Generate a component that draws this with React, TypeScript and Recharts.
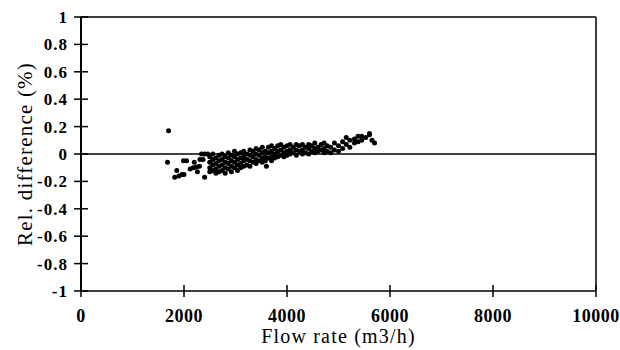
import { ScatterChart, Scatter, XAxis, YAxis, ReferenceLine } from "recharts";

// flow rate (m3/h) and relative difference (%)
const flowRate = [
  1700, 1680, 1860, 1820, 1900, 1960, 2000, 1990, 2050, 2120, 2180, 2240, 2300, 2200, 2260, 2310, 2370, 2340, 2400, 2460, 2400,
  2500, 2500, 2500, 2500, 2560, 2560, 2560, 2560, 2620, 2620, 2620, 2620, 2680, 2680, 2680, 2680,
  2740, 2740, 2740, 2740, 2800, 2800, 2800, 2800, 2860, 2860, 2860, 2860, 2920, 2920, 2920, 2920,
  2980, 2980, 2980, 2980, 3040, 3040, 3040, 3040, 3100, 3100, 3100, 3100, 3160, 3160, 3160, 3160,
  3220, 3220, 3220, 3280, 3280, 3280, 3280, 3340, 3340, 3340, 3400, 3400, 3400, 3400, 3460, 3460, 3460,
  3520, 3520, 3520, 3520, 3580, 3580, 3580, 3600, 3640, 3640, 3640, 3700, 3700, 3700, 3700, 3760, 3760, 3760,
  3820, 3820, 3820, 3880, 3880, 3880, 3940, 3940, 3940, 4000, 4000, 4000, 4060, 4060, 4060, 4120, 4120,
  4180, 4180, 4180, 4240, 4240, 4300, 4300, 4300, 4360, 4360, 4420, 4420, 4420, 4480, 4480,
  4540, 4540, 4540, 4600, 4600, 4660, 4660, 4720, 4720, 4720, 4780, 4780, 4850, 4850, 4920, 4920,
  5000, 5000, 5080, 5080, 5150, 5150, 5220, 5220, 5310, 5310, 5380, 5380, 5450, 5450, 5530, 5600, 5600, 5650, 5700,
];

const relDiff = [
  0.17, -0.06, -0.12, -0.17, -0.16, -0.15, -0.15, -0.05, -0.05, -0.11, -0.1, -0.095, -0.09, -0.06, -0.13, -0.04, -0.04, 0.0, 0.0, 0.0, -0.17,
  -0.02, -0.06, -0.1, -0.13, 0.0, -0.04, -0.08, -0.12, -0.03, -0.07, -0.11, -0.14, -0.01, -0.05, -0.09, -0.13,
  0.0, -0.04, -0.08, -0.12, -0.02, -0.06, -0.1, -0.14, 0.01, -0.03, -0.07, -0.11, -0.01, -0.05, -0.09, -0.13,
  0.02, -0.02, -0.06, -0.1, 0.0, -0.04, -0.08, -0.12, 0.01, -0.03, -0.07, -0.1, 0.02, -0.02, -0.05, -0.09,
  0.0, -0.04, -0.08, 0.03, -0.01, -0.05, -0.09, 0.02, -0.02, -0.06, 0.04, 0.0, -0.04, -0.07, 0.03, -0.01, -0.05,
  0.05, 0.01, -0.03, -0.06, 0.02, -0.02, -0.05, -0.09, 0.05, 0.01, -0.03, 0.06, 0.02, -0.02, -0.05, 0.04, 0.0, -0.03,
  0.06, 0.02, -0.02, 0.07, 0.03, -0.01, 0.05, 0.01, -0.02, 0.06, 0.02, -0.01, 0.07, 0.03, 0.0, 0.05, 0.01,
  0.07, 0.03, -0.01, 0.06, 0.02, 0.07, 0.03, 0.0, 0.05, 0.01, 0.07, 0.04, 0.0, 0.06, 0.02,
  0.08, 0.04, 0.01, 0.05, 0.02, 0.07, 0.03, 0.08, 0.04, 0.01, 0.06, 0.02, 0.05, 0.01, 0.08, 0.03,
  0.06, 0.02, 0.09, 0.04, 0.12, 0.07, 0.1, 0.05, 0.08, 0.11, 0.13, 0.09, 0.13, 0.1, 0.12, 0.15, 0.14, 0.1, 0.08,
];

const xTicks = [0, 2000, 4000, 6000, 8000, 10000];
const yTicks = [-1, -0.8, -0.6, -0.4, -0.2, 0, 0.2, 0.4, 0.6, 0.8, 1];

const FONT = '"Liberation Serif", "DejaVu Serif", serif';

function XTick({ x, y, payload }: any) {
  return (
    <g>
      <line x1={x} x2={x} y1={y - 6} y2={y + 6} stroke="#000" strokeWidth={1.5} />
      <text x={x} y={y + 31} textAnchor="middle" fontFamily={FONT} fontSize={18} fontWeight={700} letterSpacing={0.5} fill="#000">
        {payload.value}
      </text>
    </g>
  );
}

function YTick({ x, y, payload }: any) {
  return (
    <g>
      <line x1={x - 7} x2={x + 7} y1={y} y2={y} stroke="#000" strokeWidth={1.5} />
      <text x={x - 13} y={y + 6} textAnchor="end" fontFamily={FONT} fontSize={17} fontWeight={700} letterSpacing={1} fill="#000">
        {String(payload.value)}
      </text>
    </g>
  );
}

function YTitle({ viewBox }: any) {
  const cx = viewBox.x + 25;
  const cy = viewBox.y + viewBox.height / 2;
  return (
    <text
      x={cx}
      y={cy}
      transform={`rotate(-90, ${cx}, ${cy})`}
      textAnchor="middle"
      dominantBaseline="central"
      fontFamily={FONT}
      fontSize={21}
      letterSpacing={1.2}
      fill="#000"
    >
      Rel. difference (%)
    </text>
  );
}

function Dot({ cx, cy }: any) {
  return <circle cx={cx} cy={cy} r={2.5} fill="#000" />;
}

export default function App() {
  const data = flowRate.map((f, i) => ({ flow: f, diff: relDiff[i] }));

  return (
    <div style={{ position: "absolute", left: 0, top: 0, background: "#fff" }}>
      <ScatterChart width={620} height={350} margin={{ top: 17, right: 24, left: 0, bottom: 0 }}>
        <XAxis
          type="number"
          dataKey="flow"
          domain={[0, 10000]}
          ticks={xTicks}
          interval={0}
          height={59}
          tickSize={0}
          tickMargin={0}
          tickLine={false}
          tick={<XTick />}
          axisLine={{ stroke: "#000", strokeWidth: 1.5 }}
          label={{
            value: "Flow rate (m3/h)",
            position: "insideBottom",
            offset: 7,
            fill: "#000",
            fontFamily: FONT,
            fontSize: 20,
            letterSpacing: 1.2,
          }}
        />
        <YAxis
          type="number"
          dataKey="diff"
          domain={[-1, 1]}
          ticks={yTicks}
          interval={0}
          width={81}
          tickSize={0}
          tickMargin={0}
          tickLine={false}
          tick={<YTick />}
          axisLine={{ stroke: "#000", strokeWidth: 2 }}
          label={<YTitle />}
        />
        <ReferenceLine y={1} stroke="#000" strokeWidth={1.5} />
        <ReferenceLine x={10000} stroke="#000" strokeWidth={1.5} />
        <ReferenceLine y={0} stroke="#000" strokeWidth={1.5} />
        <Scatter data={data} fill="#000" shape={<Dot />} isAnimationActive={false} />
      </ScatterChart>
    </div>
  );
}
